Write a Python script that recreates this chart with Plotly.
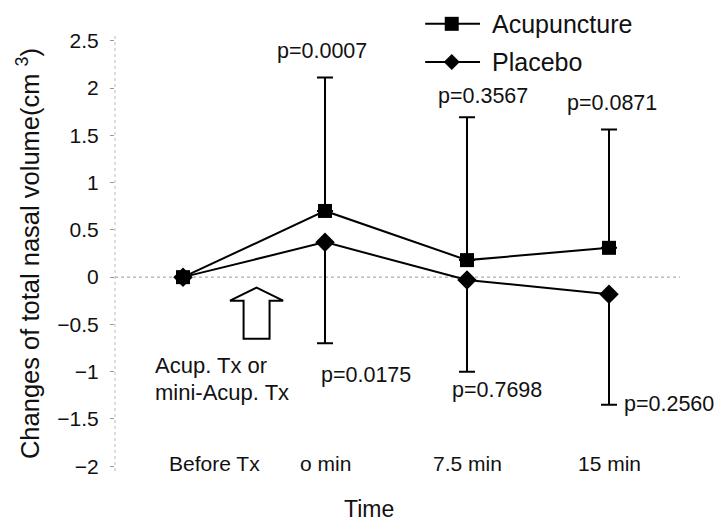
import plotly.graph_objects as go

categories = ["Before Tx", "o min", "7.5 min", "15 min"]
cat_pos = [0, 1, 2, 3]
label_pos = [0.22, 1, 2, 3]

series_names = ["Acupuncture", "Placebo"]
acup_mean = [0.0, 0.70, 0.18, 0.31]
acup_err_up = [0.0, 1.41, 1.51, 1.25]
placebo_mean = [0.0, 0.37, -0.03, -0.18]
placebo_err_down = [0.0, 1.07, 0.97, 1.17]

p_texts = ["p=0.0007", "p=0.3567", "p=0.0871", "p=0.0175", "p=0.7698", "p=0.2560"]
p_x = [0.98, 2.11, 3.02, 1.29, 2.21, 3.42]
p_y = [2.39, 1.92, 1.84, -1.03, -1.19, -1.34]

y_ticks = [2.5, 2, 1.5, 1, 0.5, 0, -0.5, -1, -1.5, -2]

FONT = "Liberation Sans, Arial, sans-serif"
TXT = "#111"

fig = go.Figure()
fig.add_trace(go.Scatter(
    x=cat_pos, y=placebo_mean, mode="lines+markers", name=series_names[1],
    line=dict(color="black", width=2),
    marker=dict(symbol="diamond", size=15, color="black"),
    error_y=dict(type="data", symmetric=False, array=[0] * 4,
                 arrayminus=placebo_err_down, color="black", thickness=2, width=8),
))
fig.add_trace(go.Scatter(
    x=cat_pos, y=acup_mean, mode="lines+markers", name=series_names[0],
    line=dict(color="black", width=2),
    marker=dict(symbol="square", size=14, color="black"),
    error_y=dict(type="data", symmetric=False, array=acup_err_up,
                 arrayminus=[0] * 4, color="black", thickness=2, width=8),
))

annotations = []
for t, x, y in zip(p_texts, p_x, p_y):
    annotations.append(dict(x=x, y=y, xref="x", yref="y", text=t, showarrow=False,
                            font=dict(size=21.5, color=TXT, family=FONT)))
for t, x in zip(categories, label_pos):
    annotations.append(dict(x=x, y=-1.97, xref="x", yref="y", text=t, showarrow=False,
                            yanchor="middle", font=dict(size=21, color=TXT, family=FONT)))
annotations.append(dict(x=-0.21, y=-0.93, xref="x", yref="y", text="Acup. Tx or",
                        showarrow=False, xanchor="left",
                        font=dict(size=22, color=TXT, family=FONT)))
annotations.append(dict(x=-0.21, y=-1.22, xref="x", yref="y", text="mini-Acup. Tx",
                        showarrow=False, xanchor="left",
                        font=dict(size=22, color=TXT, family=FONT)))
annotations.append(dict(x=0.45, y=-0.088, xref="paper", yref="paper", text="Time",
                        showarrow=False, yanchor="middle",
                        font=dict(size=23, color=TXT, family=FONT)))
annotations.append(dict(x=-0.154, y=0.501, xref="paper", yref="paper",
                        text="Changes of total nasal volume(cm <sup>3</sup>)",
                        showarrow=False, textangle=-90, xanchor="center", yanchor="middle",
                        font=dict(size=25.5, color=TXT, family=FONT)))

# custom legend
leg_x0, leg_x1, leg_mx, leg_tx = 0.549, 0.646, 0.596, 0.664
leg_rows = [1.028, 0.940]
shapes = []
for name, ry in zip(series_names, leg_rows):
    shapes.append(dict(type="line", xref="paper", yref="paper", x0=leg_x0, x1=leg_x1,
                       y0=ry, y1=ry, line=dict(color="black", width=2)))
    annotations.append(dict(x=leg_tx, y=ry, xref="paper", yref="paper", text=name,
                            showarrow=False, xanchor="left", yanchor="middle",
                            font=dict(size=25, color=TXT, family=FONT)))
shapes.append(dict(type="rect", xref="paper", yref="paper", xsizemode="pixel",
                   ysizemode="pixel", xanchor=leg_mx, yanchor=leg_rows[0],
                   x0=-7, x1=7, y0=-7, y1=7, fillcolor="black", line=dict(width=0)))
shapes.append(dict(type="path", xref="paper", yref="paper", xsizemode="pixel",
                   ysizemode="pixel", xanchor=leg_mx, yanchor=leg_rows[1],
                   path="M 0 -8 L 8 0 L 0 8 L -8 0 Z", fillcolor="black",
                   line=dict(width=0)))

# hollow up arrow (annotation graphic)
ax_c, a_top, a_head, a_bot, a_hw, a_sw = 0.518, -0.111, -0.249, -0.651, 0.187, 0.0915
arrow_path = (f"M {ax_c} {a_top} L {ax_c + a_hw} {a_head} L {ax_c + a_sw} {a_head} "
              f"L {ax_c + a_sw} {a_bot} L {ax_c - a_sw} {a_bot} L {ax_c - a_sw} {a_head} "
              f"L {ax_c - a_hw} {a_head} Z")

shapes += [
    dict(type="line", xref="paper", yref="y", x0=0, x1=1, y0=0, y1=0,
         line=dict(color="#999", width=1, dash="dot"), layer="below"),
    dict(type="line", xref="paper", yref="paper", x0=0, x1=0, y0=0, y1=1,
         line=dict(color="#bbb", width=1, dash="dot"), layer="below"),
    dict(type="path", path=arrow_path, xref="x", yref="y",
         line=dict(color="black", width=2), fillcolor="white"),
]

fig.update_layout(
    width=722, height=525,
    margin=dict(l=107, r=50, t=28, b=62, autoexpand=False),
    plot_bgcolor="white", paper_bgcolor="white",
    font=dict(family=FONT, color=TXT),
    showlegend=False,
    xaxis=dict(range=[-0.479, 3.5], showticklabels=False, showgrid=False,
               zeroline=False, showline=False, ticks=""),
    yaxis=dict(range=[-2.05, 2.55], tickvals=y_ticks, showgrid=False,
               zeroline=False, showline=False,
               ticks="outside", ticklen=4, tickcolor="#999",
               ticklabelstandoff=7,
               tickfont=dict(size=21, color=TXT, family=FONT)),
    annotations=annotations,
    shapes=shapes,
)

fig.write_html("out.html")
